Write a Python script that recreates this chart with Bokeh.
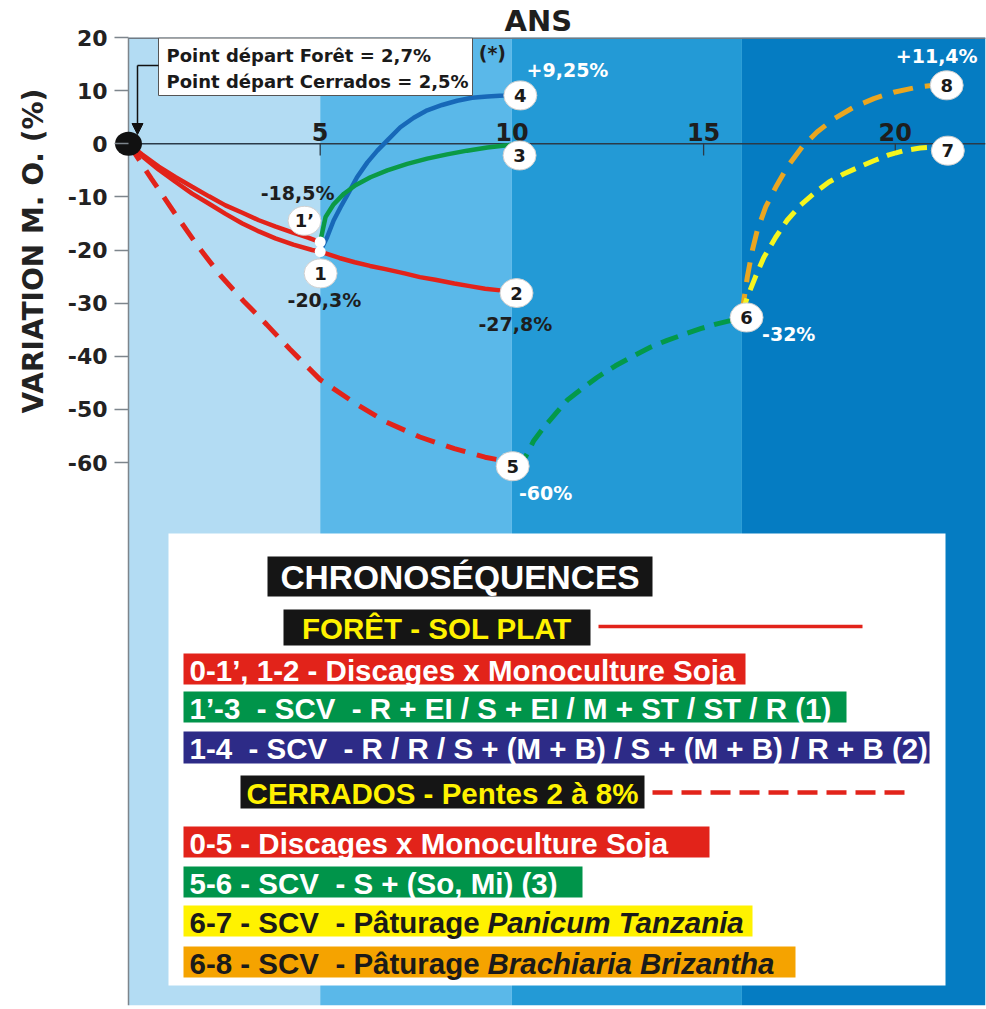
import math
from bokeh.plotting import figure
from bokeh.models import Range1d, FixedTicker, Arrow, NormalHead, Title
from bokeh.core.properties import value
from bokeh.embed import file_html
from bokeh.resources import INLINE

# ---------------- data ----------------
x_ticks = [5, 10, 15, 20]
x_tick_labels = ["5", "10", "15", "20"]
y_ticks = [-60, -50, -40, -30, -20, -10, 0, 10, 20]
band_edges = [0, 5, 10, 16]
band_colors = ["#b3dcf3", "#5ab8e9", "#239ad6", "#057cc2"]

# Forêt - sol plat
foret_0_1p_x = [0, 0.35, 0.79, 1.23, 1.66, 2.1, 2.53, 2.97, 3.40, 3.84, 4.27, 4.7, 5.0]
foret_0_1p_y = [0, -2.0, -4.3, -6.3, -8.1, -9.9, -11.6, -13.0, -14.4, -15.6, -16.7, -17.7, -18.5]
foret_0_1_x = [0, 0.35, 0.79, 1.23, 1.66, 2.09, 2.53, 2.97, 3.40, 3.83, 4.3, 4.79, 5.0]
foret_0_1_y = [0, -2.3, -4.9, -7.2, -9.4, -11.25, -13.2, -15.0, -16.5, -17.8, -19.0, -20.0, -20.3]
foret_1_2_x = [5.0, 5.5, 5.9, 6.3, 6.7, 7.2, 7.6, 8.0, 8.5, 8.9, 9.3, 9.7, 10.0]
foret_1_2_y = [-20.3, -21.5, -22.3, -23.0, -23.6, -24.4, -25.1, -25.6, -26.3, -26.8, -27.3, -27.6, -27.8]
scv_1p_3_x = [5.0, 5.14, 5.35, 5.62, 5.92, 6.31, 6.75, 7.27, 7.79, 8.31, 8.83, 9.36, 9.88, 10.0]
scv_1p_3_y = [-18.5, -13.8, -11.4, -9.4, -7.8, -6.3, -5.0, -3.8, -2.8, -2.0, -1.3, -0.7, -0.3, -0.2]
scv_1_4_x = [5.0, 5.18, 5.35, 5.53, 5.75, 5.96, 6.23, 6.49, 6.79, 7.09, 7.44, 7.79, 8.18,
             8.57, 8.96, 9.36, 9.79, 10.0]
scv_1_4_y = [-20.3, -17.6, -14.45, -11.95, -9.1, -6.3, -3.5, -1.3, 0.93, 3.1, 4.9, 6.3, 7.3,
             8.1, 8.65, 8.9, 9.1, 9.25]

# Cerrados - pentes 2 à 8%
cer_0_5_x = [0, 0.6, 1.2, 1.8, 2.4, 3.0, 3.6, 4.2, 5.0, 5.9, 6.7, 7.6, 8.5, 9.3, 10.0]
cer_0_5_y = [0, -6.6, -13.0, -19.2, -24.8, -29.6, -34.0, -38.6, -44.4, -48.8, -52.3, -55.2,
             -57.4, -59.0, -60.0]
cer_5_6_x = [10.0, 10.35, 10.57, 10.83, 11.14, 11.44, 11.83, 12.22, 12.70, 13.18, 13.61,
             14.05, 14.48, 14.92, 15.35, 15.70, 16.0]
cer_5_6_y = [-60.0, -59.0, -55.9, -53.4, -50.8, -48.3, -46.1, -44.0, -41.8, -39.9, -38.3,
             -37.0, -35.9, -34.8, -33.9, -33.3, -32.5]
cer_6_7_x = [16.0, 16.14, 16.35, 16.57, 16.88, 17.18, 17.52, 17.87, 18.27, 18.65, 19.05,
             19.44, 19.83, 20.22, 20.65, 21.0]
cer_6_7_y = [-32.0, -28.9, -25.1, -21.4, -17.6, -14.4, -11.6, -9.4, -7.2, -5.7, -4.4,
             -3.2, -2.1, -1.3, -0.8, -0.65]
cer_6_8_x = [16.0, 16.05, 16.14, 16.27, 16.40, 16.62, 16.88, 17.18, 17.57, 17.96, 18.40,
             18.92, 19.44, 19.96, 20.57, 21.0]
cer_6_8_y = [-32.0, -29.5, -25.1, -20.1, -16.3, -11.9, -8.2, -4.4, -0.6, 2.2, 4.7,
             6.9, 8.5, 9.7, 10.65, 11.0]

# starting point
origin_x = [0]
origin_y = [0]

# numbered nodes (centre of each white disc)
node_labels = ["1\u2019", "1", "2", "3", "4", "5", "6", "7", "8"]
node_x = [4.59, 5.01, 10.12, 10.20, 10.22, 10.02, 16.12, 21.37, 21.34]
node_y = [-14.5, -24.4, -28.1, -2.2, 9.1, -60.7, -32.7, -1.3, 11.0]
junction_x = [5.0, 5.0]
junction_y = [-18.5, -20.3]

# value labels
pct_labels = ["-18,5%", "-20,3%", "-27,8%", "+9,25%", "-60%", "-32%", "+11,4%", "(*)"]
pct_x = [4.41, 5.11, 10.09, 11.45, 10.88, 17.22, 21.08, 9.49]
pct_y = [-9.2, -29.5, -33.9, 13.8, -65.7, -35.9, 16.6, 17.0]
pct_colors = ["#1e1e1e", "#1e1e1e", "#1e1e1e", "#ffffff", "#ffffff", "#ffffff", "#ffffff", "#1e1e1e"]

start_notes = ["Point d\u00e9part For\u00eat = 2,7%", "Point d\u00e9part Cerrados = 2,5%"]

SP2 = "\u00a0 "  # double space kept visible
legend_rows = [
    "CHRONOS\u00c9QUENCES",
    "FOR\u00caT - SOL PLAT",
    "0-1\u2019, 1-2 - Discages x Monoculture Soja",
    "1\u2019-3" + SP2 + "- SCV" + SP2 + "- R + EI / S + EI / M + ST / ST / R (1)",
    "1-4" + SP2 + "- SCV" + SP2 + "- R / R / S + (M + B) / S + (M + B) / R + B (2)",
    "CERRADOS - Pentes 2 \u00e0 8%",
    "0-5 - Discages x Monoculture Soja",
    "5-6 - SCV" + SP2 + "- S + (So, Mi) (3)",
    "6-7 - SCV" + SP2 + "- P\u00e2turage",
    "6-8 - SCV" + SP2 + "- P\u00e2turage",
]
legend_italic = ["Panicum Tanzania", "Brachiaria Brizantha"]
legend_fill = ["#151515", "#151515", "#e2231a", "#00944a", "#2d2b87",
               "#151515", "#e2231a", "#00944a", "#fff200", "#f5a300"]
legend_text_color = ["#ffffff", "#fff200", "#ffffff", "#ffffff", "#ffffff",
                     "#fff200", "#ffffff", "#ffffff", "#1a1a1a", "#1a1a1a"]

# ---------------- layout helpers (pixel -> data) ----------------
PPX = 38.34      # pixels per year
PPY = 5.3125     # pixels per % unit
X0_PX, Y20_PX = 128.0, 37.0


def X(px):
    return (px - X0_PX) / PPX


def Y(py):
    return 20.0 - (py - Y20_PX) / PPY


XS, XE = X(114), X(985)
YB, YT = Y(1005), 20.0

p = figure(width=986, height=1006, output_backend="svg", toolbar_location=None,
           x_range=Range1d(XS, XE), y_range=Range1d(YB, YT),
           x_axis_location=None, y_axis_location="left",
           min_border_left=114, min_border_right=1, min_border_top=37, min_border_bottom=1)
p.background_fill_color = "#ffffff"
p.border_fill_color = "#ffffff"
p.outline_line_color = None
p.grid.visible = False

# title "ANS" (top): left-aligned with an offset from the frame's left edge
p.title.text = "ANS"
p.title.align = "left"
p.title.offset = 390
p.title.standoff = 0
p.title.text_font = "DejaVu Sans"
p.title.text_font_style = "bold"
p.title.text_font_size = "29px"
p.title.text_color = "#1e1e1e"

ax = p.yaxis[0]
ax.ticker = FixedTicker(ticks=y_ticks)
ax.major_label_overrides = {t: str(t) for t in y_ticks}
ax.major_label_text_font = "DejaVu Sans"
ax.major_label_text_font_style = "bold"
ax.major_label_text_font_size = "22px"
ax.major_label_text_color = "#222222"
ax.axis_line_color = None
ax.major_tick_line_color = "#7d858c"
ax.major_tick_line_width = 1.5
ax.major_tick_out = 0
ax.major_tick_in = 14
ax.minor_tick_out = 0
ax.minor_tick_in = 0
ax.major_label_standoff = 7

# y-axis title placed as a left-side title so it can sit in the upper part
p.add_layout(Title(text="VARIATION M. O. (%)", align="left", offset=592, standoff=29,
                   text_font="DejaVu Sans", text_font_style="bold", text_font_size="28px",
                   text_color="#222222"), "left")

# background bands
p.quad(left=band_edges, right=band_edges[1:] + [XE], top=YT, bottom=YB,
       fill_color=band_colors, line_color=None)

# frame edges: vertical axis line at x = 0 and top border
p.segment(x0=0, y0=YB, x1=0, y1=YT, line_color="#7d858c", line_width=1.5)
p.segment(x0=0, y0=YT, x1=XE, y1=YT, line_color="#707a84", line_width=3)

# horizontal zero axis with ticks and labels
p.segment(x0=0, y0=0, x1=XE, y1=0, line_color="#2b3a48", line_width=1.3)
p.segment(x0=x_ticks, y0=0, x1=x_ticks, y1=Y(155), line_color="#2b3a48", line_width=1.3)
p.text(x=x_ticks, y=0, text=x_tick_labels, text_align="center", text_baseline="bottom",
       y_offset=-3, text_font=value("DejaVu Sans"), text_font_style="bold",
       text_font_size="24px", text_color="#1e1e1e")

# curves
p.line(foret_0_1p_x, foret_0_1p_y, line_color="#e2231a", line_width=4.5)
p.line(foret_0_1_x, foret_0_1_y, line_color="#e2231a", line_width=4.5)
p.line(foret_1_2_x, foret_1_2_y, line_color="#e2231a", line_width=4.5)
p.line(scv_1_4_x, scv_1_4_y, line_color="#1768b8", line_width=4.5)
p.line(scv_1p_3_x, scv_1p_3_y, line_color="#0b9a45", line_width=4.5)
p.line(cer_0_5_x, cer_0_5_y, line_color="#e2231a", line_width=5, line_dash="20 12")
p.line(cer_5_6_x, cer_5_6_y, line_color="#03994a", line_width=5, line_dash="18 10")
p.line(cer_6_8_x, cer_6_8_y, line_color="#eaa620", line_width=5, line_dash="20 12")
p.line(cer_6_7_x, cer_6_7_y, line_color="#f5f51e", line_width=5, line_dash="16 9")

# origin, junction dots and numbered nodes
p.ellipse(x=origin_x, y=origin_y, width=27, height=24, width_units="screen",
          height_units="screen", fill_color="#111111", line_color=None)
p.scatter(junction_x, junction_y, size=11, fill_color="#ffffff", line_color=None)
p.ellipse(x=node_x, y=node_y, width=33, height=29, width_units="screen", height_units="screen",
          fill_color="#ffffff", line_color="#d0d0d0", line_width=1)
p.text(x=node_x, y=node_y, text=node_labels, text_align="center", text_baseline="middle",
       text_font=value("DejaVu Sans"), text_font_style="bold", text_font_size="18px",
       text_color="#1a1a1a")

# value labels
p.text(x=pct_x, y=pct_y, text=pct_labels, text_color=pct_colors, text_align="center",
       text_baseline="middle", text_font=value("DejaVu Sans"), text_font_style="bold",
       text_font_size="19px")

# start-point note box with arrow
p.quad(left=X(158), right=X(472), top=Y(37.5), bottom=Y(95), fill_color="#ffffff",
       line_color="#555555", line_width=1)
p.text(x=X(166), y=[Y(55), Y(81)], text=start_notes, text_align="left", text_baseline="middle",
       text_font=value("DejaVu Sans"), text_font_style="bold", text_font_size="18px",
       text_color="#1a1a1a")
p.segment(x0=X(158), y0=Y(65), x1=X(137), y1=Y(65), line_color="#111111", line_width=1.5)
p.add_layout(Arrow(x_start=X(137), y_start=Y(65), x_end=X(137), y_end=Y(134),
                   line_color="#111111", line_width=1.5,
                   end=NormalHead(size=11, fill_color="#111111", line_color="#111111")))

# ---------------- legend panel ----------------
box_l = [267, 283, 183, 183, 183, 240, 183, 183, 183, 183]
box_r = [652, 590, 745, 846, 929, 644, 709, 582, 752, 795]
box_t = [556, 609, 653, 691, 731, 775, 826, 866, 905, 946]
box_b = [596, 645, 684, 722, 763, 808, 857, 897, 936, 977]
centered = [True, True, False, False, False, True, False, False, False, False]
sizes = ["33.5px"] + ["29.5px"] * 9

p.quad(left=X(168), right=X(945), top=Y(533), bottom=Y(985), fill_color="#ffffff", line_color=None)
p.quad(left=[X(v) for v in box_l], right=[X(v) for v in box_r],
       top=[Y(v) for v in box_t], bottom=[Y(v) for v in box_b],
       fill_color=legend_fill, line_color=None)
tx = [X((l + r) / 2) if c else X(l + 6) for l, r, c in zip(box_l, box_r, centered)]
ty = [Y((t + b) / 2 + 1) for t, b in zip(box_t, box_b)]
for i in range(len(legend_rows)):
    p.text(x=[tx[i]], y=[ty[i]], text=[legend_rows[i]],
           text_align="center" if centered[i] else "left", text_baseline="middle",
           text_font=value("Liberation Sans"), text_font_style="bold",
           text_font_size=sizes[i], text_color=legend_text_color[i])
p.text(x=[X(487), X(487)], y=[ty[8], ty[9]], text=legend_italic, text_align="left",
       text_baseline="middle", text_font=value("Liberation Sans"), text_font_style="bold italic",
       text_font_size="29.5px", text_color="#1a1a1a")
p.segment(x0=X(598), y0=Y(626), x1=X(862), y1=Y(626), line_color="#e2231a", line_width=3.5)
p.segment(x0=X(652), y0=Y(792), x1=X(912), y1=Y(792), line_color="#e2231a", line_width=4.5,
          line_dash="20 9")

open("out.html", "w").write(file_html(p, INLINE))
